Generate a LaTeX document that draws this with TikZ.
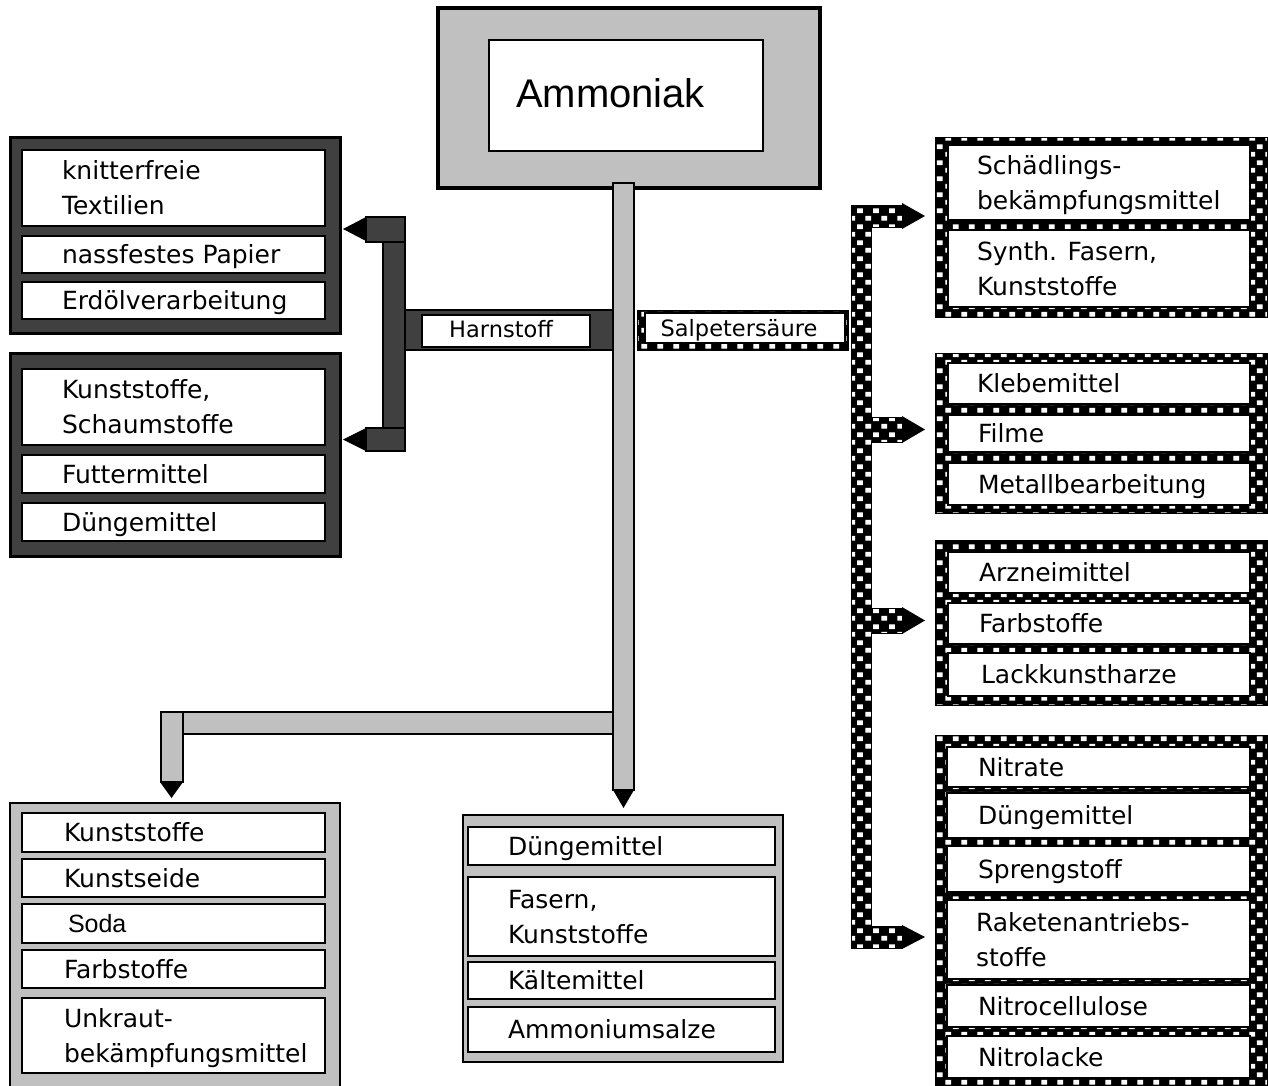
\documentclass[tikz,border=0pt]{standalone}
\usepackage{fontspec}
\setmainfont{DejaVu Sans}
\newfontfamily\amfont{Liberation Sans}
\usetikzlibrary{patterns}
\definecolor{lgray}{RGB}{192,192,192}
\definecolor{dgray}{RGB}{64,64,64}
\pgfdeclarepatternformonly{chk}{\pgfqpoint{0pt}{0pt}}{\pgfqpoint{16pt}{16pt}}{\pgfqpoint{16pt}{16pt}}{%
  \pgfpathrectangle{\pgfqpoint{1.5pt}{1.5pt}}{\pgfqpoint{6pt}{5pt}}%
  \pgfpathrectangle{\pgfqpoint{9.5pt}{9.5pt}}{\pgfqpoint{6pt}{5pt}}%
  \pgfusepath{fill}}
\tikzset{
  base/.style={inner sep=0pt, outer sep=0pt, anchor=north west},
  itembox/.style={base, draw=black, line width=2pt, fill=white},
  darkframe/.style={base, draw=black, line width=3pt, fill=dgray},
  grayframe/.style={base, draw=black, line width=2pt, fill=lgray},
  topframe/.style={base, draw=black, line width=4pt, fill=lgray},
  chkframe/.style={base, draw=black, line width=1pt, preaction={fill=black}, pattern=chk, pattern color=white},
  lbl/.style={inner sep=0pt, outer sep=0pt, anchor=west, align=left,
    font=\fontsize{25pt}{35pt}\selectfont, text height=18pt, text depth=0pt},
  lbltwo/.style={lbl, text height=53pt},
  sodalbl/.style={lbl, font=\amfont\fontsize{25pt}{35pt}\selectfont},
  smalllbl/.style={inner sep=0pt, outer sep=0pt, anchor=center,
    font=\fontsize{22.5pt}{27pt}\selectfont, text height=16.4pt, text depth=0pt},
  amlbl/.style={inner sep=0pt, outer sep=0pt, anchor=west,
    font=\amfont\fontsize{40pt}{48pt}\selectfont, text height=29pt, text depth=0pt},
  graybar/.style={fill=lgray, draw=black, line width=2pt},
  darkbar/.style={fill=dgray, draw=black, line width=2pt},
  chkbar/.style={preaction={fill=black}, pattern=chk, pattern color=white, draw=black, line width=0.8pt},
  tiphead/.style={fill=black},
}
\newcommand\ibox[8][lbl]{%
  \node[itembox, minimum width={#5-#3}, minimum height={#6-#4}] (#2) at (#3,#4) {};
  \node[#1] (#2-t) at (#7,{(#4+#6)/2}) {#8};}
\begin{document}
\begin{tikzpicture}[x=1pt,y=-1pt]
\useasboundingbox[fill=white] (0,0) rectangle (1268,1086);

% ---- top box
\node[topframe, minimum width=382, minimum height=180] (top) at (438,8) {};
\node[itembox, minimum width=274, minimum height=111] (topin) at (489,40) {};
\node[amlbl] (amm) at (516,93) {Ammoniak};

% ---- left dark frames
\node[darkframe, minimum width=330, minimum height=195] (L1) at (10,138) {};
\ibox[lbltwo]{L1a}{22}{150}{325}{226}{62}{knitterfreie\\Textilien}
\ibox{L1b}{22}{236}{325}{273}{62}{nassfestes Papier}
\ibox{L1c}{22}{282}{325}{319}{62}{Erdölverarbeitung}
\node[darkframe, minimum width=330, minimum height=203] (L2) at (10,353) {};
\ibox[lbltwo]{L2a}{22}{369}{325}{445}{62}{Kunststoffe,\\Schaumstoffe}
\ibox{L2b}{22}{455}{325}{493}{62}{Futtermittel}
\ibox{L2c}{22}{503}{325}{541}{62}{Düngemittel}

% ---- bottom left gray frame
\node[grayframe, minimum width=330, minimum height=300] (B1) at (10,803) {};
\ibox{B1a}{22}{813}{325}{852}{64}{Kunststoffe}
\ibox{B1b}{22}{859}{325}{897}{64}{Kunstseide}
\ibox[sodalbl]{B1c}{22}{904}{325}{943}{68}{Soda}
\ibox{B1d}{22}{950}{325}{988}{64}{Farbstoffe}
\ibox[lbltwo]{B1e}{22}{998}{325}{1073}{64}{Unkraut-\\bekämpfungsmittel}

% ---- bottom middle gray frame
\node[grayframe, minimum width=320, minimum height=247] (B2) at (463,815) {};
\ibox{B2a}{468}{827}{775}{865}{508}{Düngemittel}
\ibox[lbltwo]{B2b}{468}{877}{775}{956}{508}{Fasern,\\Kunststoffe}
\ibox{B2c}{468}{962}{775}{999}{508}{Kältemittel}
\ibox{B2d}{468}{1007}{775}{1052}{508}{Ammoniumsalze}

% ---- right checkered frames
\node[chkframe, minimum width=332, minimum height=179] (R1) at (935,138) {};
\ibox[lbltwo]{R1a}{948}{145}{1250}{220}{977}{Schädlings-\\bekämpfungsmittel}
\ibox[lbltwo]{R1b}{948}{230}{1250}{307}{977}{Synth. Fasern,\\Kunststoffe}
\node[chkframe, minimum width=332, minimum height=160] (R2) at (935,353) {};
\ibox{R2a}{948}{363}{1250}{404}{977}{Klebemittel}
\ibox{R2b}{948}{415}{1250}{452}{978}{Filme}
\ibox{R2c}{948}{463}{1250}{505}{978}{Metallbearbeitung}
\node[chkframe, minimum width=332, minimum height=165] (R3) at (935,540) {};
\ibox{R3a}{948}{552}{1250}{593}{979}{Arzneimittel}
\ibox{R3b}{948}{603}{1250}{644}{979}{Farbstoffe}
\ibox{R3c}{948}{653}{1250}{696}{981}{Lackkunstharze}
\node[chkframe, minimum width=332, minimum height=353] (R4) at (935,735) {};
\ibox{R4a}{947}{747}{1250}{787}{978}{Nitrate}
\ibox{R4b}{947}{793}{1250}{838}{978}{Düngemittel}
\ibox{R4c}{947}{846}{1250}{892}{978}{Sprengstoff}
\ibox[lbltwo]{R4d}{947}{900}{1250}{979}{976}{Raketenantriebs-\\stoffe}
\ibox{R4e}{947}{985}{1250}{1027}{978}{Nitrocellulose}
\ibox{R4f}{947}{1036}{1250}{1078}{978}{Nitrolacke}

% ---- Harnstoff bracket
\draw[darkbar] (405,310) rectangle (613,350);
\draw[darkbar] (383,242) rectangle (405,428);
\draw[darkbar] (366,217) rectangle (405,242);
\draw[darkbar] (366,428) rectangle (405,451);
\fill[tiphead] (366,217) -- (366,241) -- (343,229) -- cycle;
\fill[tiphead] (366,428) -- (366,451) -- (343,439.5) -- cycle;
\node[itembox, line width=1.5pt, minimum width=168, minimum height=32] (harn) at (422,315) {};
\node[smalllbl] (harn-t) at (501,329) {Harnstoff};

% ---- gray branches
\draw[graybar] (183,712) rectangle (613,734);
\draw[graybar] (161,712) rectangle (183,782);
\fill[tiphead] (160,782) -- (183,782) -- (171.5,798) -- cycle;
\draw[graybar] (613,183) rectangle (634,790);
\fill[tiphead] (613,790) -- (634,790) -- (623.5,808) -- cycle;

% ---- Salpetersaeure
\node[chkframe, minimum width=211, minimum height=40] (salpF) at (637,310) {};
\node[itembox, line width=1.5pt, minimum width=200, minimum height=30] (salp) at (645,313) {};
\node[smalllbl] (salp-t) at (739,328) {Salpetersäure};

% ---- checkered bar
\draw[chkbar] (851,205) -- (902,205) -- (902,227) -- (871,227) -- (871,417) -- (902,417)
  -- (902,442) -- (871,442) -- (871,608) -- (902,608) -- (902,633) -- (871,633)
  -- (871,926) -- (902,926) -- (902,948) -- (851,948) -- cycle;
\fill[tiphead] (902,203) -- (925,216) -- (902,229) -- cycle;
\fill[tiphead] (902,416) -- (925,429.5) -- (902,443) -- cycle;
\fill[tiphead] (902,607) -- (925,620.5) -- (902,634) -- cycle;
\fill[tiphead] (902,925) -- (925,937) -- (902,949) -- cycle;
\end{tikzpicture}
\end{document}
